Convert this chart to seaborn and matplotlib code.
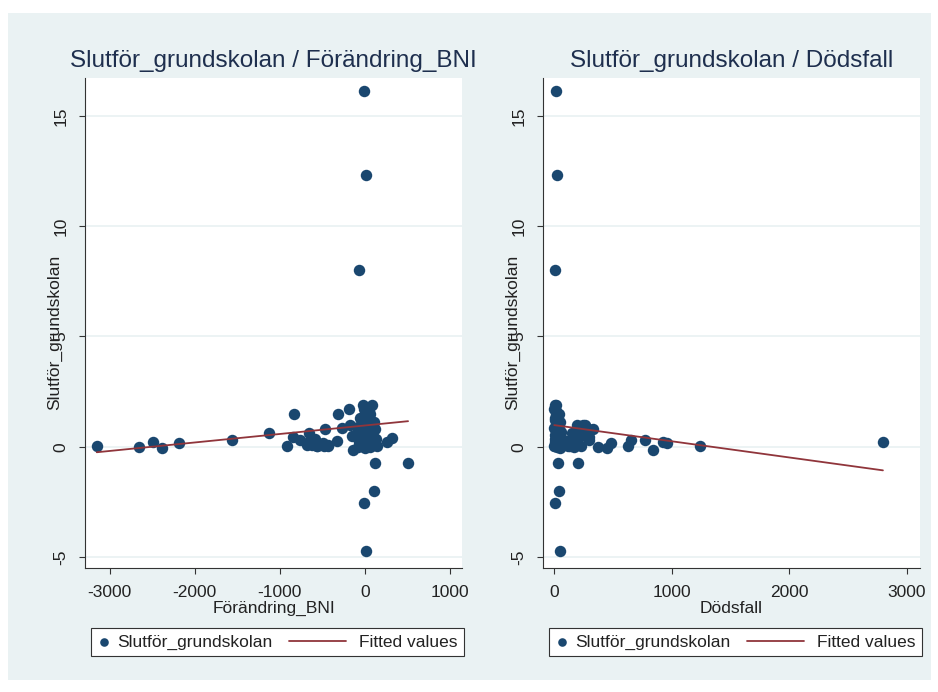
import numpy as np
import pandas as pd
import seaborn as sns
import matplotlib.pyplot as plt
from matplotlib.patches import Rectangle
from matplotlib.legend_handler import HandlerLine2D

# one row per country: change in GNI, deaths, completed primary school
bni_change = [-12, 12, -70, 12, -12, 105, 117, 504,
              -3150, -2660, -2485, -2380, -2180, -1560, -1125, -830,
              -914, -844, -762, -656, -680, -586, -563, -469,
              -434, -328, -316, -188, -270, -176, -152, -141,
              258, 316,
              -23, 82, -10, 40, 60, -60, 20, 100,
              -40, 70, -80, 10, 120, -30, 50, -90,
              0, 90, -50, 30, 130, -20, 80, -70,
              15, 110, -40, 55, 0, -85, 25, 140,
              -563, -434, -680, -586, -480, -620, -500]
deaths = [17, 25, 10, 51, 8, 42, 204, 30,
          1240, 374, 926, 450, 960, 654, 263, 40,
          629, 300, 773, 230, 484, 160, 120, 331,
          140, 100, 20, 10, 280, 263, 180, 841,
          2795, 60,
          5, 15, 3, 20, 35, 8, 12, 50,
          195, 250, 30, 2, 45, 18, 60, 150,
          5, 28, 210, 40, 12, 300, 55, 8,
          35, 120, 3, 22, 48, 170, 10, 230,
          5, 10, 15, 20, 25, 30, 35]
school_completion = [16.15, 12.3, 8.0, -4.75, -2.55, -2.0, -0.75, -0.72,
                     0.05, -0.03, 0.2, -0.05, 0.18, 0.3, 0.6, 1.5,
                     0.05, 0.45, 0.3, 0.64, 0.15, 0.36, 0.05, 0.8,
                     0.05, 0.27, 1.5, 1.7, 0.86, 1.0, 0.5, -0.15,
                     0.2, 0.41,
                     1.9, 1.9, 1.7, 1.6, 1.5, 1.3, 1.2, 1.1,
                     1.0, 1.0, 0.9, 0.85, 0.8, 0.7, 0.65, 0.6,
                     0.55, 0.5, 0.45, 0.4, 0.35, 0.3, 0.25, 0.2,
                     0.15, 0.1, 0.05, 0.0, -0.05, 0.0, 0.1, 0.05,
                     0.05, 0.1, 0.1, 0.15, 0.05, 0.1, 0.15]

df = pd.DataFrame({'Förändring_BNI': bni_change,
                   'Dödsfall': deaths,
                   'Slutför_grundskolan': school_completion})

NAVY = '#1a476f'
MAROON = '#90353b'
BG = '#eaf2f3'
INK = '#222222'


class LongLineHandler(HandlerLine2D):
    # legend line is longer than the marker key, so draw it out to the left
    def get_xdata(self, legend, xdescent, ydescent, width, height, fontsize):
        end = width - 0.33 * fontsize
        x = np.array([end - 3.28 * fontsize, end]) - xdescent
        return x, x


sns.set_style('white')
plt.rcParams['font.family'] = ['Liberation Sans', 'DejaVu Sans']
plt.rcParams['axes.unicode_minus'] = False

fig = plt.figure(figsize=(9.38, 6.92), dpi=100)
fig.patch.set_facecolor('white')
fig.add_artist(Rectangle((8 / 938, 12 / 692), 923 / 938, 667 / 692,
                         transform=fig.transFigure, facecolor=BG,
                         edgecolor='none', zorder=-10))


def panel(left_px, right_px, xcol, xlim, xticks, title):
    ax = fig.add_axes([left_px / 938, 124 / 692, (right_px - left_px) / 938, 490 / 692])
    ax.set_facecolor('white')
    sns.regplot(data=df, x=xcol, y='Slutför_grundskolan', ax=ax, ci=None,
                truncate=True, label='Slutför_grundskolan',
                scatter_kws=dict(color=NAVY, s=68, linewidths=0, alpha=1, zorder=3),
                line_kws=dict(color=MAROON, lw=1.3, label='Fitted values', zorder=4))
    ax.set_xlim(*xlim)
    ax.set_ylim(-5.5, 16.72)
    ax.set_xticks(xticks)
    ax.set_yticks([-5, 0, 5, 10, 15])
    for yv in [-5, 0, 5, 10, 15]:
        ax.axhline(yv, color=BG, lw=1.3, zorder=1)
    for s in ['top', 'right']:
        ax.spines[s].set_visible(False)
    for s in ['left', 'bottom']:
        ax.spines[s].set_color('#333333')
        ax.spines[s].set_linewidth(0.8)
    ax.tick_params(axis='both', direction='out', length=4, width=0.8,
                   color='#333333', labelsize=12.5, labelcolor=INK, pad=8,
                   left=True, bottom=True)
    ax.tick_params(axis='y', labelrotation=90)
    for t in ax.get_yticklabels():
        t.set_va('center')
    ax.set_xlabel(xcol, fontsize=12.5, color=INK, labelpad=1)
    ax.set_ylabel('Slutför_grundskolan', fontsize=12.5, color=INK)
    ax.yaxis.set_label_coords(-0.061, 0.48)

    line = ax.get_lines()[0]
    leg = ax.legend(loc='upper left', bbox_to_anchor=(6 / 377, -60 / 490),
                    borderaxespad=0, ncol=2, fontsize=12.5, frameon=True,
                    fancybox=False, edgecolor='#333333', framealpha=1,
                    borderpad=0.38, handlelength=0.7, handletextpad=0.42,
                    columnspacing=3.88, scatterpoints=1, markerscale=0.75,
                    handler_map={line: LongLineHandler()})
    leg.get_frame().set_linewidth(0.8)
    for t in leg.get_texts():
        t.set_color(INK)

    cx = (left_px + right_px) / 2 / 938
    fig.text(cx, 1 - 67 / 692, title, ha='center', va='baseline',
             fontsize=17.5, color='#1e2f4e')
    return ax


panel(85, 462, 'Förändring_BNI', (-3288, 1137), [-3000, -2000, -1000, 0, 1000],
      'Slutför_grundskolan / Förändring_BNI')
panel(543, 920, 'Dödsfall', (-93.5, 3110), [0, 1000, 2000, 3000],
      'Slutför_grundskolan / Dödsfall')

fig.savefig('out.png', dpi=100)
